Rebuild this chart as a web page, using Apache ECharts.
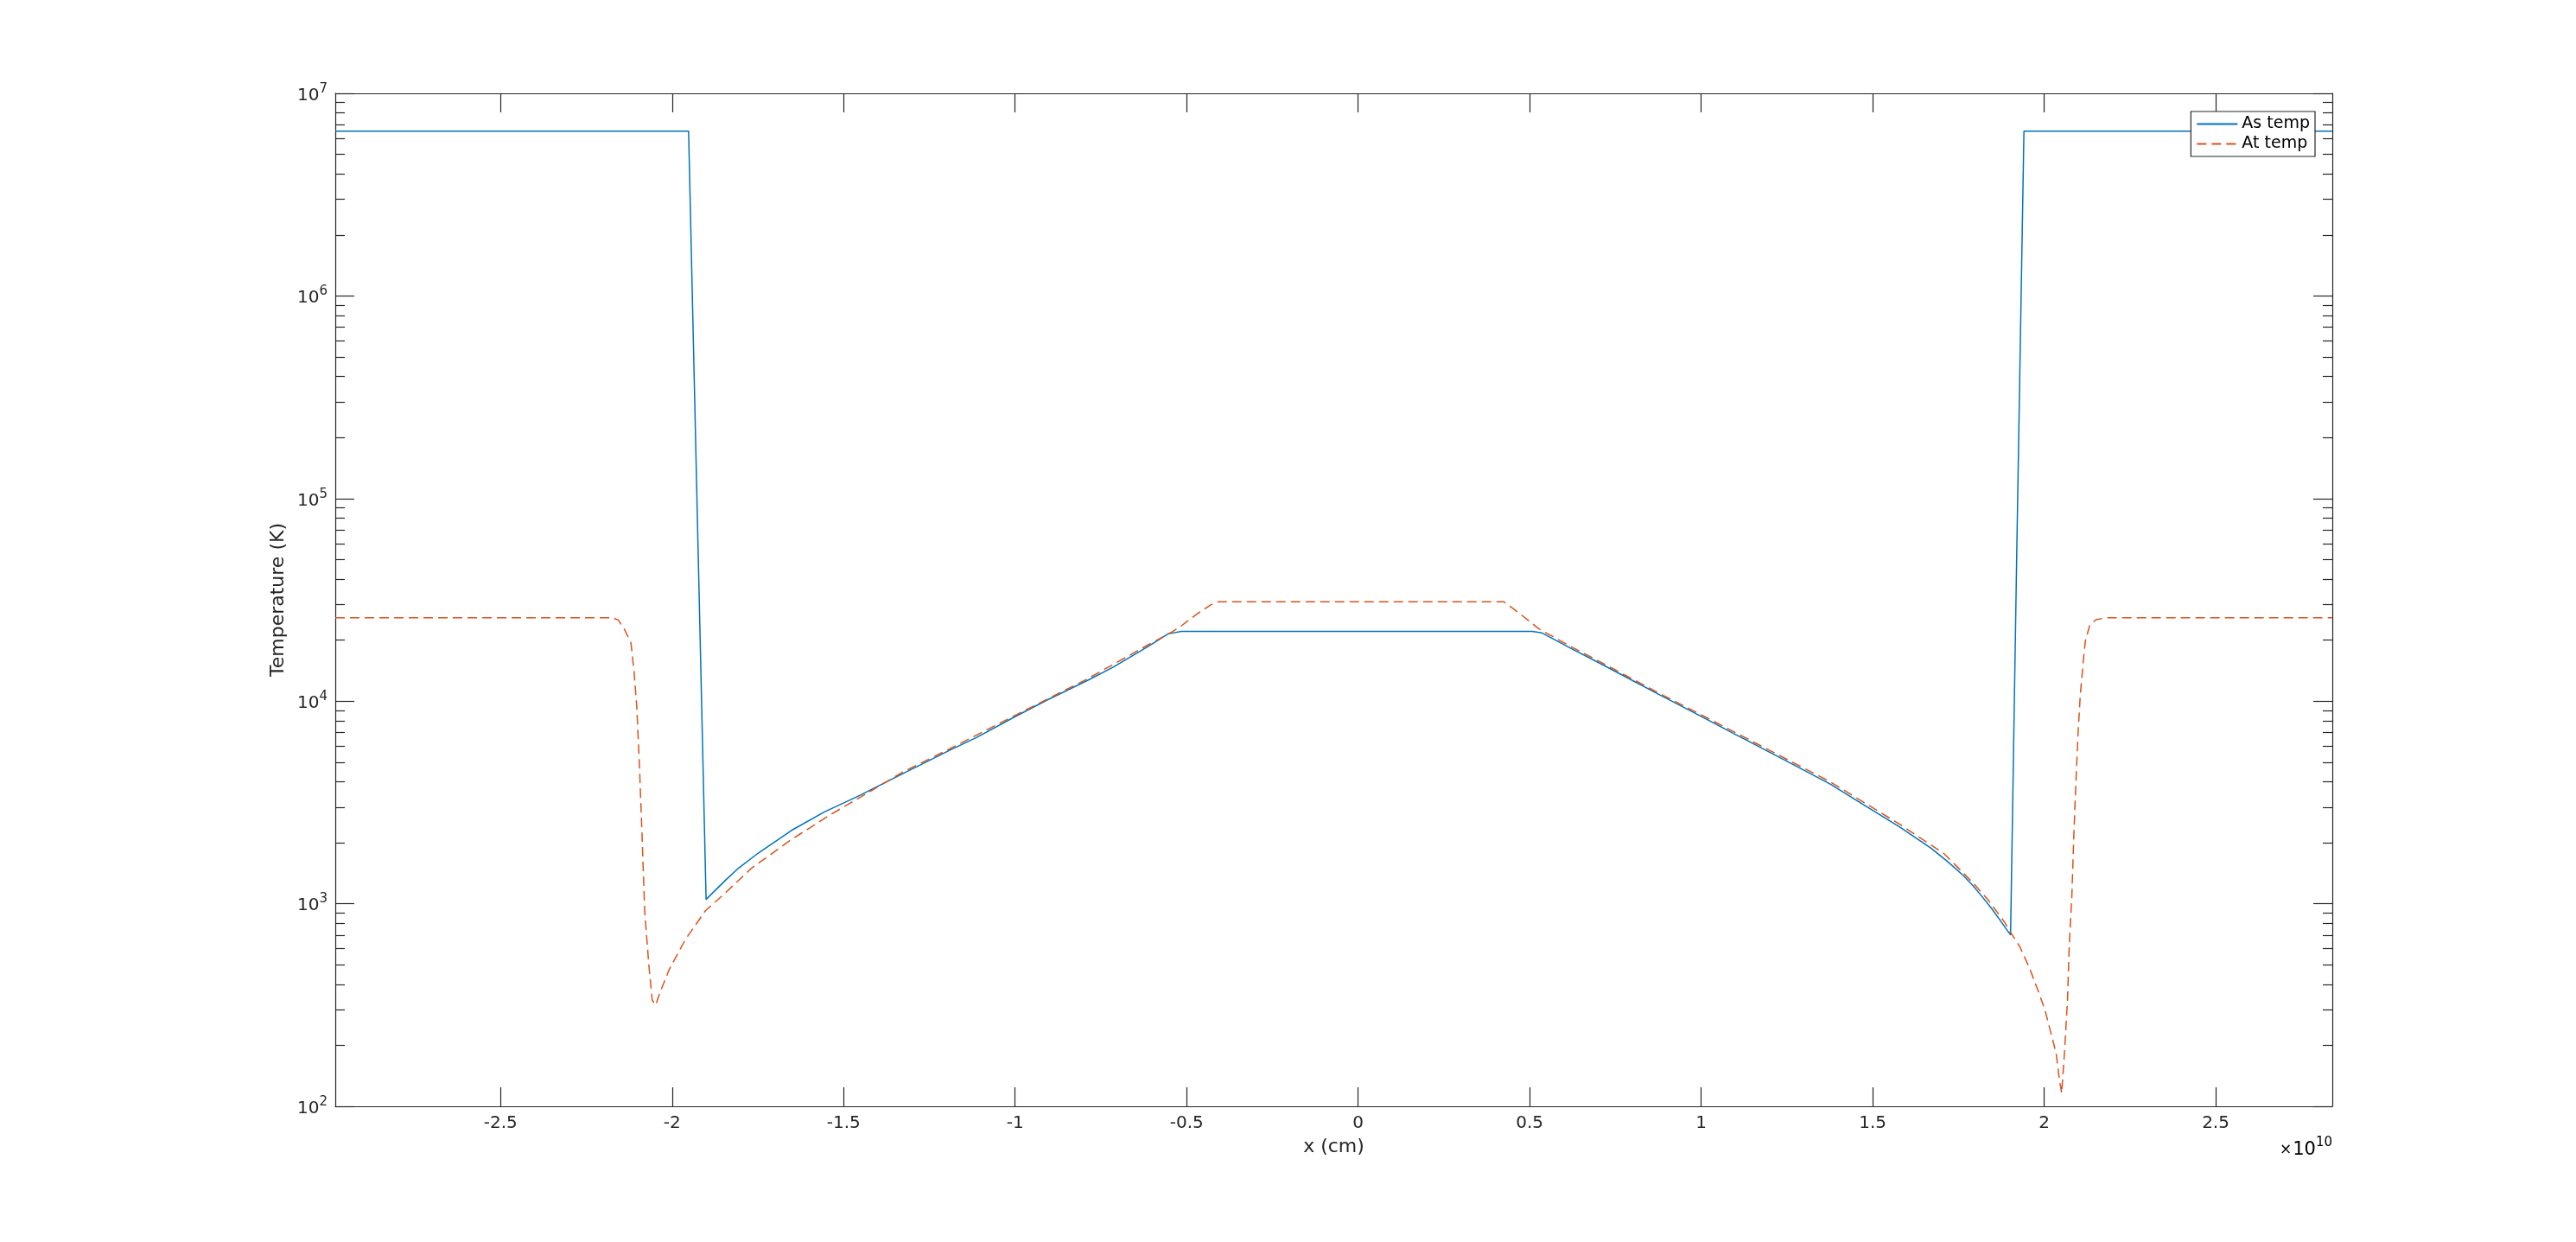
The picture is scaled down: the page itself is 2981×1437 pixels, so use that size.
<!DOCTYPE html>
<html><head><meta charset="utf-8">
<script src="https://cdn.jsdelivr.net/npm/echarts@6/dist/echarts.min.js"></script>
<style>html,body{margin:0;padding:0;background:#fff}#c{width:2981px;height:1437px}</style>
</head><body><div id="c"></div>
<script>
// x in units of 1e10 cm, temperature in K
const asX = [-2.982, -1.952, -1.924, -1.901, -1.845, -1.806, -1.749, -1.652, -1.556, -1.460, -1.325, -1.190, -1.113, -0.997, -0.907, -0.789, -0.714, -0.612, -0.554, -0.515,
  0.508, 0.535, 0.619, 0.711, 0.766, 0.886, 0.988, 1.080, 1.172, 1.265, 1.376, 1.486, 1.579, 1.671, 1.717, 1.763, 1.792, 1.819, 1.847, 1.874, 1.902, 1.920, 1.941, 2.840];
const asT = [6.5e6, 6.5e6, 53500, 1050, 1303, 1500, 1778, 2301, 2838, 3381, 4406, 5728, 6607, 8435, 10120, 12650, 14720, 18620, 21480, 22080,
  22080, 21730, 18280, 15170, 13550, 10590, 8610, 7130, 5920, 4900, 3899, 2992, 2393, 1875, 1622, 1384, 1230, 1084, 946, 817, 700, 53500, 6.5e6, 6.5e6];

const atX = [-2.982, -2.172, -2.157, -2.140, -2.120, -2.111, -2.103, -2.095, -2.088, -2.080, -2.068, -2.058, -2.048, -2.036, -2.009, -1.961, -1.903, -1.845, -1.768, -1.652, -1.537, -1.421,
  -1.325, -1.190, -0.997, -0.789, -0.612, -0.544, -0.515, -0.470, -0.430, -0.409,
  0.425, 0.445, 0.480, 0.526, 0.619, 0.711, 0.886, 0.988, 1.172, 1.376, 1.579, 1.708, 1.791, 1.837, 1.883, 1.902, 1.929, 1.957, 1.985, 2.003, 2.022, 2.035, 2.044, 2.051,
  2.059, 2.068, 2.073, 2.081, 2.086, 2.092, 2.099, 2.105, 2.114, 2.120, 2.133, 2.151, 2.179, 2.840];
const atT = [25760, 25760, 25120, 22800, 19360, 14000, 9333, 4677, 2254, 923, 501, 334, 316, 362, 472, 667, 923, 1130, 1500, 2075, 2761, 3597,
  4487, 5821, 8551, 12880, 18970, 21880, 23550, 26920, 29850, 30900,
  30900, 29170, 26300, 22800, 18630, 15450, 10740, 8770, 6040, 4000, 2466, 1766, 1276, 1042, 817, 723, 614, 482, 362, 296, 222, 182, 137, 116,
  182, 334, 614, 1130, 2075, 3819, 7031, 10540, 15810, 19770, 23770, 25230, 25760, 25760];

const xTicks = [-2.5, -2, -1.5, -1, -0.5, 0, 0.5, 1, 1.5, 2, 2.5];
const yDecades = [2, 3, 4, 5, 6, 7];
const xMin = -2.982, xMax = 2.84;

const FONT = 'DejaVu Sans';
const AX = '#262626';
const minorLog = [];
yDecades.slice(0, -1).forEach(d => { for (let k = 2; k <= 9; k++) minorLog.push(d + Math.log10(k)); });

const noLine = {show: false};
const decoY = (pos, ticks, len, showLine, label) => ({
  type: 'value', position: pos, min: 2, max: 7, gridIndex: 0,
  axisLine: {show: showLine, onZero: false, lineStyle: {color: AX, width: 1.2}},
  axisTick: {show: true, inside: true, length: len, customValues: ticks, lineStyle: {color: AX, width: 1.2}},
  axisLabel: label || {show: false},
  splitLine: noLine, minorTick: noLine, minorSplitLine: noLine
});

const chart = echarts.init(document.getElementById('c'), null, {renderer: 'canvas'});
chart.setOption({
  animation: false,
  backgroundColor: '#fff',
  textStyle: {fontFamily: FONT},
  grid: {left: 388, right: 282, top: 108, bottom: 157, containLabel: false, outerBoundsMode: 'none'},
  legend: {
    data: ['As temp', 'At temp'], orient: 'vertical', right: 302, top: 129,
    itemWidth: 47, itemHeight: 14, itemGap: 4, padding: [5, 6, 5, 6],
    borderColor: AX, borderWidth: 1.2, borderRadius: 0, backgroundColor: '#fff',
    selectedMode: false,
    itemStyle: {opacity: 0, color: 'rgba(0,0,0,0)', borderWidth: 0},
    textStyle: {fontSize: 19, color: '#000', fontFamily: FONT}
  },
  xAxis: [
    {
      type: 'value', position: 'bottom', min: xMin, max: xMax,
      name: 'x (cm)', nameLocation: 'middle', nameGap: 36,
      nameTextStyle: {fontSize: 22, color: AX, fontFamily: FONT},
      axisLine: {show: true, onZero: false, lineStyle: {color: AX, width: 1.2}},
      axisTick: {show: true, inside: true, length: 22, customValues: xTicks, lineStyle: {color: AX, width: 1.2}},
      axisLabel: {show: true, customValues: xTicks, margin: 10, fontSize: 20, color: AX, fontFamily: FONT,
        formatter: v => String(Math.round(v * 10) / 10)},
      splitLine: noLine
    },
    {
      type: 'value', position: 'top', min: xMin, max: xMax,
      axisLine: {show: true, onZero: false, lineStyle: {color: AX, width: 1.2}},
      axisTick: {show: true, inside: true, length: 22, customValues: xTicks, lineStyle: {color: AX, width: 1.2}},
      axisLabel: {show: false}, splitLine: noLine
    }
  ],
  yAxis: [
    {type: 'log', logBase: 10, min: 100, max: 1e7, show: false, position: 'left',
      axisLine: {onZero: false}, splitLine: noLine},
    Object.assign(decoY('left', yDecades, 22, true, {
      show: true, customValues: yDecades, margin: 9,
      formatter: v => '{b|10}{s|' + Math.round(v) + '}',
      rich: {
        b: {fontSize: 20, color: AX, fontFamily: FONT, padding: [5, 0, 0, 0]},
        s: {fontSize: 15, color: AX, fontFamily: FONT, verticalAlign: 'top'}
      }
    }), {
      name: 'Temperature (K)', nameLocation: 'middle', nameGap: 53, nameRotate: 90,
      nameTextStyle: {fontSize: 22, color: AX, fontFamily: FONT}
    }),
    decoY('left', minorLog, 11, false),
    decoY('right', yDecades, 22, true),
    decoY('right', minorLog, 11, false)
  ],
  graphic: [{
    type: 'text', right: 282, top: 1315, z: 10,
    style: {
      text: '{x|×}{b|10}{s|10}',
      rich: {
        x: {fontSize: 17, color: '#555', fontFamily: FONT, padding: [6, 1, 0, 0]},
        b: {fontSize: 21, color: AX, fontFamily: FONT, padding: [5, 0, 0, 0]},
        s: {fontSize: 15, color: AX, fontFamily: FONT, verticalAlign: 'top'}
      }
    }
  }],
  series: [
    {
      name: 'As temp', type: 'line', xAxisIndex: 0, yAxisIndex: 0,
      data: asX.map((x, i) => [x, asT[i]]),
      symbol: 'none', showSymbol: false, smooth: false,
      lineStyle: {color: '#0072BD', width: 1.5}, itemStyle: {color: '#0072BD'}
    },
    {
      name: 'At temp', type: 'line', xAxisIndex: 0, yAxisIndex: 0,
      data: atX.map((x, i) => [x, atT[i]]),
      symbol: 'none', showSymbol: false, smooth: false,
      lineStyle: {color: '#D95319', width: 1.5, type: [11, 6]}, itemStyle: {color: '#D95319'}
    }
  ]
});
</script></body></html>
